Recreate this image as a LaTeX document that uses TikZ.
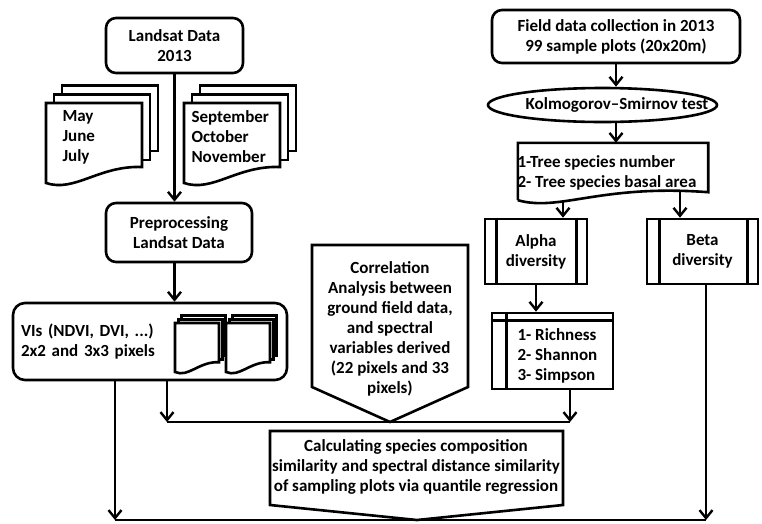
\documentclass[tikz,border=0pt]{standalone}
\usepackage{fontspec}
\setmainfont{Carlito}
\usetikzlibrary{arrows.meta,shapes.geometric}

\tikzset{
  every node/.style={font=\bfseries\fontsize{17}{20}\selectfont},
  ln/.style={line width=2.6pt},
  rbox/.style={draw,ln,rounded corners=10pt,align=center},
  arr/.style={ln,-{Straight Barb[length=8pt,width=13pt,line width=2.4pt]}},
}

\newcommand\pagestack[5]{
  \foreach \pg in {2,1} {
    \filldraw[ln,fill=white] ({#1+\pg*#5},{#2-\pg*1.1*#5}) rectangle ++(#3,{0.82*#4});
  }
  \filldraw[ln,fill=white] (#1,#2) -- ++(#3,0) -- ({#1+#3},{#2+0.8*#4})
    .. controls ({#1+0.55*#3},{#2+0.78*#4}) and ({#1+0.3*#3},{#2+1.12*#4}) .. (#1,{#2+#4}) -- cycle;
}

\begin{document}
\begin{tikzpicture}[x=1pt,y=-1pt]
\useasboundingbox (0,0) rectangle (762,523);

\node[rbox,minimum width=137pt,minimum height=55pt] (landsat) at (174.5,45.5) {Landsat Data\\2013};
\pagestack{46}{103}{96}{80}{8}
\pagestack{184}{103}{96}{80}{8}
\node[anchor=west,align=left] (early) at (59,137) {May\\June\\July};
\node[anchor=west,align=left] (late) at (188,137) {September\\October\\November};

\node[rbox,minimum width=146pt,minimum height=59pt] (prep) at (179,232.5) {Preprocessing\\Landsat Data};
\draw[arr] (landsat.south) -- (landsat.south |- prep.north);

\node[rbox,rounded corners=12pt,text width=258pt,inner sep=8pt,minimum height=77pt,align=left] (vis) at (150,341.5) {VIs (NDVI, DVI, ...)\\2x2 and 3x3 pixels};
\draw[arr] (landsat.south |- prep.south) -- (landsat.south |- vis.north);
\pagestack{175}{323}{44}{49}{3.3}
\pagestack{226}{323}{44}{49}{3.3}

\node[rbox,minimum width=248pt,minimum height=53pt] (field) at (616,36.5) {Field data collection in 2013\\99 sample plots (20x20m)};
\node[draw,ln,ellipse,minimum width=229pt,minimum height=34pt] (ks) at (602.5,105) {};
\node (kstext) at (617,105) {Kolmogorov–Smirnov test};
\draw[arr] (field.south) -- (field.south |- ks.north);

\node[minimum width=190pt,minimum height=57pt,inner sep=0pt] (trees) at (613,171.5) {};
\draw[ln] (trees.south west) -- (trees.north west) -- (trees.north east) -- ([yshift=8pt]trees.south east)
  .. controls (600,184) and (560,212) .. (trees.south west);
\node[anchor=west,align=left] (treestext) at (514,172.5) {1-Tree species number\\2- Tree species basal area};
\draw[arr] (ks.south -| field.south) -- (field.south |- trees.north);

\node[draw,ln,minimum width=102pt,minimum height=65pt,align=center] (alpha) at (536,251.5) {Alpha\\diversity};
\draw[ln] ([xshift=13pt]alpha.north west) -- ([xshift=13pt]alpha.south west)
  ([xshift=-12pt]alpha.north east) -- ([xshift=-12pt]alpha.south east);
\node[draw,ln,minimum width=111pt,minimum height=65pt,align=center] (beta) at (702.5,251.5) {Beta\\diversity};
\draw[ln] ([xshift=14pt]beta.north west) -- ([xshift=14pt]beta.south west)
  ([xshift=-12pt]beta.north east) -- ([xshift=-12pt]beta.south east);
\coordinate (wa) at (563,201);
\coordinate (wb) at (680,191);
\draw[arr] (wa) -- (wa |- alpha.north);
\draw[arr] (wb) -- (wb |- beta.north);

\node[draw,ln,minimum width=121pt,minimum height=76pt] (indices) at (552.5,351) {};
\draw[ln] ([xshift=16pt]indices.north west) -- ([xshift=16pt]indices.south west)
  ([yshift=-9pt]indices.north west) -- ([yshift=-9pt]indices.north east);
\node[anchor=west,align=left] (indtext) at (514,355.5) {1- Richness\\2- Shannon\\3- Simpson};
\draw[arr] (alpha.south) -- (alpha.south |- indices.north);

\node[align=center] (corr) at (390,328.5) {Correlation\\Analysis between\\ground field data,\\and spectral\\variables derived\\(22 pixels and 33\\pixels)};
\draw[ln] (312,245) -- (468,245) -- (468,387) -- (390,422) -- (312,387) -- cycle;

\coordinate (jl) at (167,422);
\coordinate (jr) at (570,422);
\draw[ln] (jl) -- (jr);
\draw[arr] (vis.south -| jl) -- (jl);
\draw[arr] (indices.south -| jr) -- (jr);

\node[align=center] (calc) at (416,467) {Calculating species composition\\similarity and spectral distance similarity\\of sampling plots via quantile regression};
\draw[ln] (270,431) -- (563,431) -- (563,505) -- (417,520) -- (270,505) -- cycle;

\coordinate (bl) at (115,520);
\coordinate (br) at (706,520);
\draw[ln] (bl) -- (br);
\draw[arr] (vis.south -| bl) -- (bl);
\draw[arr] (beta.south -| br) -- (br);
\end{tikzpicture}
\end{document}
